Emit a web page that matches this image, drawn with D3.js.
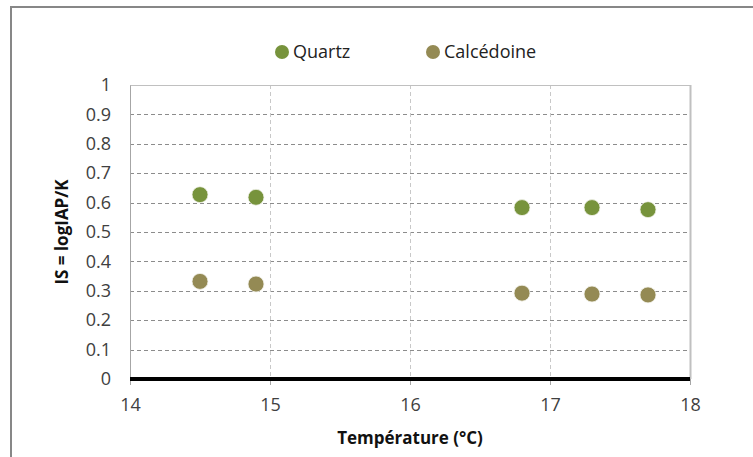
<!DOCTYPE html>
<html>
<head>
<meta charset="utf-8">
<script src="https://cdn.jsdelivr.net/npm/d3@7"></script>
<style>
  body { margin: 0; background: #fff; }
  svg { display: block; font-family: "Open Sans", "Liberation Sans", sans-serif; }
</style>
</head>
<body>
<div id="chart"></div>
<script>
// data
const temperatures = [14.5, 14.9, 16.8, 17.3, 17.7];
const quartz = [0.627, 0.618, 0.583, 0.583, 0.576];
const calcedoine = [0.332, 0.323, 0.292, 0.289, 0.286];
const seriesNames = ["Quartz", "Calcédoine"];
const seriesColors = ["#77933C", "#948A54"];
const xTicks = [14, 15, 16, 17, 18];
const yTicks = [0, 0.1, 0.2, 0.3, 0.4, 0.5, 0.6, 0.7, 0.8, 0.9, 1];

const W = 753, H = 457;
const margin = {top: 85, right: 63, bottom: 78, left: 130};
const width = W - margin.left - margin.right,
      height = H - margin.top - margin.bottom;

const svg = d3.select("#chart").append("svg")
  .attr("width", W).attr("height", H);

// outer chart frame (cropped at right / bottom)
svg.append("line").attr("x1", 11).attr("x2", W).attr("y1", 7).attr("y2", 7)
  .attr("stroke", "#878787").attr("stroke-width", 2);
svg.append("line").attr("x1", 11).attr("x2", 11).attr("y1", 6).attr("y2", H)
  .attr("stroke", "#878787").attr("stroke-width", 2);

const g = svg.append("g").attr("transform", `translate(${margin.left},${margin.top})`);

const x = d3.scaleLinear().domain([14, 18]).range([0, width]);
const y = d3.scaleLinear().domain([0, 1]).range([height, 0]);

// horizontal dashed grid
g.selectAll(".hgrid").data(yTicks.filter(d => d > 0 && d < 1)).enter()
  .append("line")
  .attr("x1", 0).attr("x2", width)
  .attr("y1", d => Math.round(y(d)) + 0.5).attr("y2", d => Math.round(y(d)) + 0.5)
  .attr("stroke", "#8c8c8c").attr("stroke-dasharray", "4,3");

// vertical dashed grid
g.selectAll(".vgrid").data(xTicks.filter(d => d > 14 && d < 18)).enter()
  .append("line")
  .attr("x1", d => Math.round(x(d)) + 0.5).attr("x2", d => Math.round(x(d)) + 0.5)
  .attr("y1", 0).attr("y2", height)
  .attr("stroke", "#c8c8c8").attr("stroke-dasharray", "4,3");

// plot frame top and right
g.append("line").attr("x1", 0).attr("x2", width).attr("y1", 0.5).attr("y2", 0.5)
  .attr("stroke", "#c0c0c0");
g.append("line").attr("x1", width + 0.5).attr("x2", width + 0.5).attr("y1", 0).attr("y2", height)
  .attr("stroke", "#c0c0c0").attr("stroke-width", 2);

// y axis
const yAxis = g.append("g").call(d3.axisLeft(y).tickValues(yTicks).tickSize(0).tickPadding(19)
  .tickFormat(d => d3.format("~g")(d)));
yAxis.select(".domain").attr("stroke", "#a6a6a6");
yAxis.selectAll("text").attr("font-size", 18).attr("fill", "#404040")
  .attr("font-family", "Open Sans, sans-serif");

// x axis
const xAxis = g.append("g").attr("transform", `translate(0,${height})`)
  .call(d3.axisBottom(x).tickValues(xTicks).tickSize(6).tickPadding(13)
    .tickFormat(d3.format("d")));
xAxis.select(".domain").remove();
xAxis.selectAll(".tick line").attr("stroke", "#a6a6a6");
xAxis.selectAll("text").attr("font-size", 18).attr("fill", "#404040")
  .attr("font-family", "Open Sans, sans-serif");

// thick zero line
g.append("line").attr("x1", 0).attr("x2", width).attr("y1", y(0)).attr("y2", y(0))
  .attr("stroke", "#000").attr("stroke-width", 4);

// points
const series = [quartz, calcedoine];
series.forEach((vals, i) => {
  g.selectAll(".pt" + i).data(vals).enter()
    .append("circle")
    .attr("cx", (d, j) => x(temperatures[j]))
    .attr("cy", d => y(d))
    .attr("r", 8)
    .attr("fill", seriesColors[i])
    .attr("stroke", "#f4f4ee").attr("stroke-width", 0.8);
});

// legend
const legendX = [282, 433];
seriesNames.forEach((name, i) => {
  svg.append("circle").attr("cx", legendX[i]).attr("cy", 52).attr("r", 7)
    .attr("fill", seriesColors[i]);
  svg.append("text").attr("x", legendX[i] + 11).attr("y", 58)
    .attr("font-size", 18).attr("fill", "#222").text(name);
});

// axis titles
svg.append("text").attr("x", margin.left + width / 2).attr("y", 444)
  .attr("text-anchor", "middle").attr("font-size", 17).attr("font-weight", "bold")
  .attr("fill", "#111").text("Température (°C)");
svg.append("text").attr("transform", `translate(68,${margin.top + height / 2}) rotate(-90)`)
  .attr("text-anchor", "middle").attr("font-size", 17).attr("font-weight", "bold")
  .attr("fill", "#111").text("IS = logIAP/K");
</script>
</body>
</html>
